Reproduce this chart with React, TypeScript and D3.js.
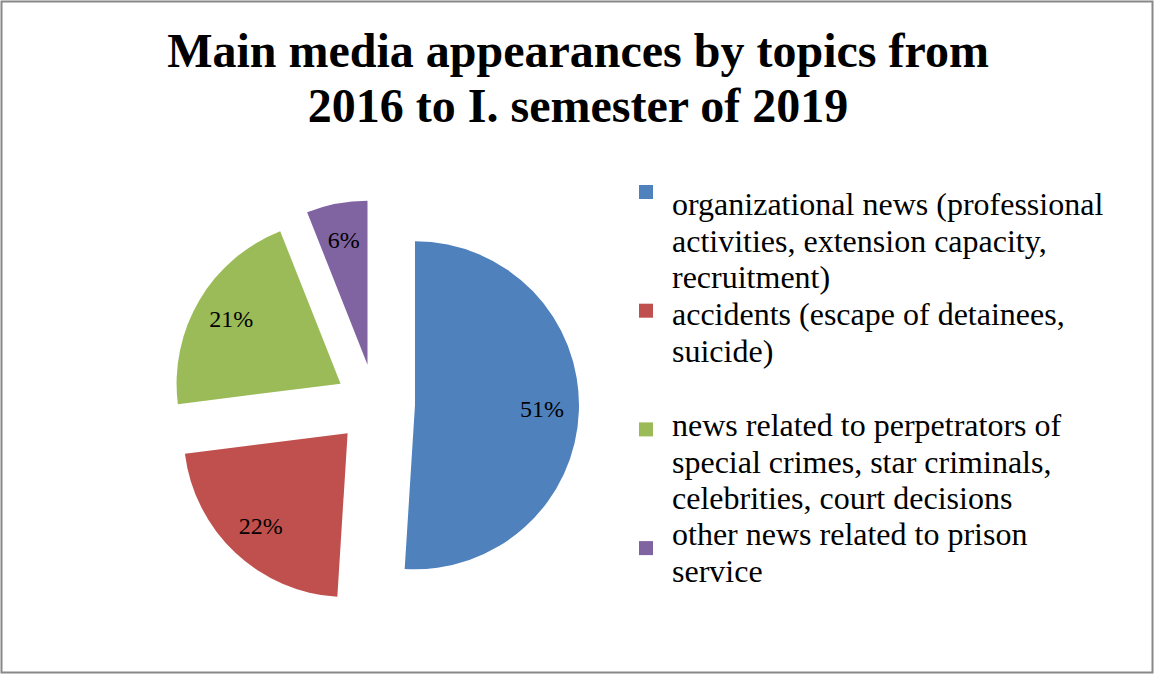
import React from "react";
import * as d3 from "d3";

const categories = [
  ["organizational news (professional", "activities, extension capacity,", "recruitment)"],
  ["accidents (escape of detainees,", "suicide)"],
  ["news related to perpetrators of", "special crimes, star criminals,", "celebrities, court decisions"],
  ["other news related to prison", "service"],
];
const values = [51, 22, 21, 6];
const labels = ["51%", "22%", "21%", "6%"];
const colors = ["#4F81BD", "#C0504D", "#9BBB59", "#8064A2"];
const titleLines = ["Main media appearances by topics from", "2016 to I. semester of 2019"];

const W = 1155;
const H = 675;
const cx = 375;
const cy = 404;
const R = 164;
const explode = 40;
const labelR = 127;
const font = "'Liberation Serif', 'Times New Roman', serif";

export default function App() {
  const pie = d3.pie<number>().sort(null).value((d) => d);
  const arcs = pie(values);
  const arc = d3.arc<d3.PieArcDatum<number>>().innerRadius(0).outerRadius(R);
  const labelArc = d3.arc<d3.PieArcDatum<number>>().innerRadius(labelR).outerRadius(labelR);

  const legendX = 639;
  const textX = 672;
  const lineH = 36.5;
  const legendStarts = [215, 325, 436, 545];
  const slotCenter0 = 192;
  const slotH = 118.7;
  const sq = 14;

  return (
    <svg width={W} height={H} style={{ position: "absolute", left: 0, top: 0 }} fontFamily={font}>
      <rect x={0} y={0} width={W} height={H} fill="#fff" />
      <rect x={1.5} y={1.5} width={1151} height={671} fill="none" stroke="#888" strokeWidth={2} />
      {titleLines.map((t, i) => (
        <text key={i} x={578} y={67 + i * 55} textAnchor="middle" fontSize={48} fontWeight="bold" fill="#000">
          {t}
        </text>
      ))}
      {arcs.map((a, i) => {
        const mid = (a.startAngle + a.endAngle) / 2;
        const dx = Math.sin(mid) * explode;
        const dy = -Math.cos(mid) * explode;
        const [lx, ly] = labelArc.centroid(a);
        return (
          <g key={i} transform={`translate(${cx + dx},${cy + dy})`}>
            <path d={arc(a) || ""} fill={colors[i]} />
            <text x={lx} y={ly} textAnchor="middle" dominantBaseline="central" fontSize={24} fill="#000">
              {labels[i]}
            </text>
          </g>
        );
      })}
      {categories.map((lines, i) => (
        <g key={i}>
          <rect x={legendX} y={slotCenter0 + i * slotH - sq / 2} width={sq} height={sq} fill={colors[i]} />
          {lines.map((l, j) => (
            <text key={j} x={textX} y={legendStarts[i] + j * lineH} fontSize={32} fill="#000">
              {l}
            </text>
          ))}
        </g>
      ))}
    </svg>
  );
}
